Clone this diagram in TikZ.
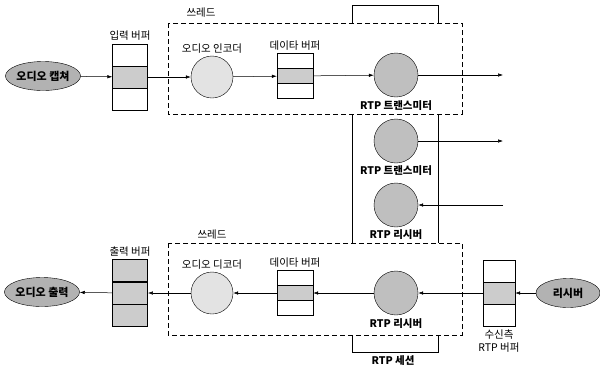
\documentclass[tikz,border=0pt]{standalone}
\usepackage{fontspec}
\setmainfont{Noto Sans CJK KR}
\usetikzlibrary{arrows.meta,positioning,shapes.geometric}

\begin{document}
\begin{tikzpicture}[
  x=1pt, y=-1pt,
  node distance = -0.4pt,
  every node/.style = {font=\fontsize{10.5}{13}\selectfont},
  proc/.style = {circle, draw=black, fill=gray!50, minimum size=44pt, inner sep=0pt},
  ext/.style = {ellipse, draw=black, fill=gray!60, minimum width=74pt,
    minimum height=29pt, inner sep=0pt, font=\fontsize{11}{12}\selectfont\bfseries},
  cell/.style = {rectangle, draw=black, fill=white, minimum width=35pt,
    minimum height=22pt, inner sep=0pt},
  dcell/.style = {cell, minimum width=36pt, minimum height=15pt},
  thread/.style = {draw=black, dash pattern=on 5pt off 3pt, line width=0.9pt},
  sess/.style = {draw=black, line width=0.6pt},
  arr/.style = {-{Latex[length=5pt,width=3.5pt]}, line width=0.5pt},
  lbl/.style = {inner sep=1pt},
  rtp/.style = {inner sep=1pt, font=\fontsize{10.5}{12}\selectfont\bfseries}
]
\useasboundingbox (0,0) rectangle (600,365);

% sending side
\node[ext]                          (cap)  at (43,76) {오디오 캡쳐};
\node[cell, fill=gray!40]           (inB)  at (130,77) {};
\node[cell, above=of inB]           (inA)  {};
\node[cell, below=of inB]           (inC)  {};
\node[lbl, above=2pt of inA]        (inL)  {입력 버퍼};

\draw[thread] (168,23) rectangle (462,114);
\node[lbl]                          (thT)  at (201,13) {쓰레드};

\node[proc, fill=gray!22, minimum size=42pt] (enc) at (212,77) {};
\node[lbl, above=1pt of enc]        (encL) {오디오 인코더};
\node[dcell, fill=gray!40]          (dtB)  at (295,76) {};
\node[dcell, above=of dtB]          (dtA)  {};
\node[dcell, below=of dtB]          (dtC)  {};
\node[lbl, above=2pt of dtA]        (dtL)  {데이타 버퍼};
\node[proc]                         (tx)   at (396,75) {};
\node[rtp, below=2pt of tx]         (txL)  {RTP 트랜스미터};
\coordinate (txOut) at (503,75);

% RTP session
\draw[sess] (352,23) |- (438,5) -- (438,23);
\draw[sess] (352,114) -- (352,243);
\draw[sess] (438,114) -- (438,243);
\draw[sess] (352,335) |- (438,352) -- (438,335);
\node[rtp]                          (sesL) at (393,361) {RTP 세션};

\node[proc]                         (tx2)  at (396,141) {};
\node[rtp, below=1pt of tx2]        (tx2L) {RTP 트랜스미터};
\node[proc]                         (rx2)  at (396,205) {};
\node[rtp, below=1pt of rx2]        (rx2L) {RTP 리시버};
\coordinate (tx2Out) at (503,141);
\coordinate (rx2In)  at (503,205);

% receiving side
\node[ext]                          (out)  at (42,292) {오디오 출력};
\node[cell, fill=gray!40, line width=0.9pt] (outB) at (130,293) {};
\node[cell, fill=gray!40, line width=0.9pt, above=of outB] (outA) {};
\node[cell, fill=gray!40, line width=0.9pt, below=of outB] (outC) {};
\node[lbl, above=2pt of outA]       (outL) {출력 버퍼};

\draw[thread] (168,243) rectangle (462,335);
\node[lbl]                          (thB)  at (212,235) {쓰레드};

\node[proc, fill=gray!22, minimum size=42pt] (dec) at (212,293) {};
\node[lbl, above=1pt of dec]        (decL) {오디오 디코더};
\node[dcell, fill=gray!40]          (dbB)  at (295,293) {};
\node[dcell, above=of dbB]          (dbA)  {};
\node[dcell, below=of dbB]          (dbC)  {};
\node[lbl, above=2pt of dbA]        (dbL)  {데이타 버퍼};
\node[proc]                         (rx)   at (396,293) {};
\node[rtp, below=2pt of rx]         (rxL)  {RTP 리시버};

\node[cell, minimum width=32pt, fill=gray!40] (rbB) at (499,293) {};
\node[cell, minimum width=32pt, above=of rbB]  (rbA) {};
\node[cell, minimum width=32pt, below=of rbB]  (rbC) {};
\node[lbl, align=center, below=2pt of rbC]     (rbL) {수신측\\RTP 버퍼};
\node[ext, minimum width=64pt]      (rcv)  at (568,293) {리시버};

% flows
\draw[arr] (cap)  -- (inB);
\draw[arr] (inB)  -- (enc);
\draw[arr] (enc)  -- (dtB);
\draw[arr] (dtB)  -- (tx);
\draw[arr] (tx)   -- (txOut);
\draw[arr] (tx2)  -- (tx2Out);
\draw[arr] (rx2In) -- (rx2);
\draw[arr] (rcv)  -- (rbB);
\draw[arr] (rbB)  -- (rx);
\draw[arr] (rx)   -- (dbB);
\draw[arr] (dbB)  -- (dec);
\draw[arr] (dec)  -- (outB);
\draw[arr] (outB) -- (out);
\end{tikzpicture}
\end{document}
